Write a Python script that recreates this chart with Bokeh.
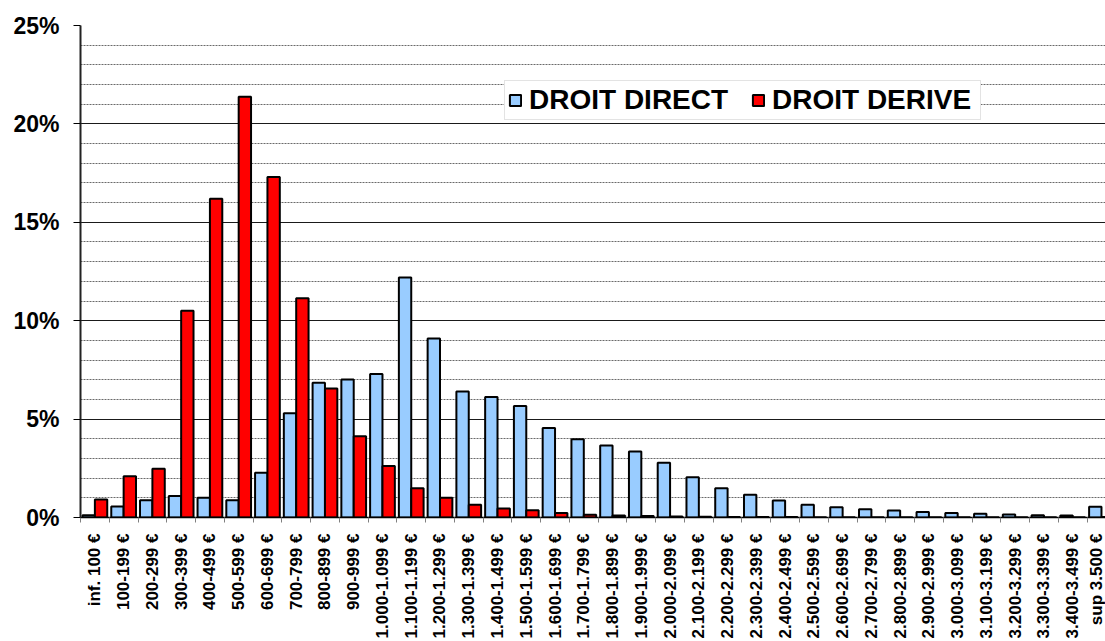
import math
import numpy as np
from bokeh.plotting import figure
from bokeh.models import (ColumnDataSource, Range1d, FixedTicker, PrintfTickFormatter,
                          Legend, LegendItem)
from bokeh.transform import dodge
from bokeh.embed import file_html
from bokeh.resources import INLINE

categories = [
    "inf. 100 €", "100-199 €", "200-299 €", "300-399 €", "400-499 €", "500-599 €",
    "600-699 €", "700-799 €", "800-899 €", "900-999 €", "1.000-1.099 €", "1.100-1.199 €",
    "1.200-1.299 €", "1.300-1.399 €", "1.400-1.499 €", "1.500-1.599 €", "1.600-1.699 €",
    "1.700-1.799 €", "1.800-1.899 €", "1.900-1.999 €", "2.000-2.099 €", "2.100-2.199 €",
    "2.200-2.299 €", "2.300-2.399 €", "2.400-2.499 €", "2.500-2.599 €", "2.600-2.699 €",
    "2.700-2.799 €", "2.800-2.899 €", "2.900-2.999 €", "3.000-3.099 €", "3.100-3.199 €",
    "3.200-3.299 €", "3.300-3.399 €", "3.400-3.499 €", "sup 3.500 €",
]

droit_direct = [
    0.12, 0.56, 0.88, 1.09, 1.00, 0.88, 2.27, 5.30, 6.85, 7.01, 7.29, 12.20,
    9.09, 6.40, 6.12, 5.66, 4.55, 3.97, 3.66, 3.36, 2.78, 2.04, 1.49, 1.16,
    0.87, 0.65, 0.52, 0.42, 0.35, 0.28, 0.23, 0.19, 0.15, 0.12, 0.10, 0.55,
]

droit_derive = [
    0.91, 2.10, 2.48, 10.50, 16.20, 21.38, 17.30, 11.14, 6.56, 4.13, 2.62, 1.49,
    1.00, 0.65, 0.46, 0.37, 0.23, 0.14, 0.10, 0.08, 0.05, 0.04, 0.03, 0.02,
    0.02, 0.01, 0.01, 0.01, 0.01, 0.01, 0.01, 0.01, 0.01, 0.01, 0.01, 0.02,
]

y_major = [0, 5, 10, 15, 20, 25]
y_minor = [v for v in range(1, 25) if v % 5 != 0]

series_names = ["DROIT DIRECT", "DROIT DERIVE"]
colors = ["#99CCFF", "#FF0000"]

n = len(categories)
centers = [i + 0.5 for i in range(n)]
source = ColumnDataSource(dict(x=centers, direct=droit_direct, derive=droit_derive))

FONT = "Liberation Sans"

p = figure(width=1105, height=641, output_backend="svg", toolbar_location=None,
           x_range=Range1d(0, 35.64), y_range=Range1d(0, 25),
           min_border_left=80, min_border_top=25, min_border_right=0, min_border_bottom=124)
p.outline_line_color = None
p.background_fill_color = "white"
p.border_fill_color = "white"

bw = 0.43
r1 = p.vbar(x=dodge("x", -bw / 2, range=p.x_range), top="direct", width=bw, source=source,
            fill_color=colors[0], line_color="black", line_width=2)
r2 = p.vbar(x=dodge("x", bw / 2, range=p.x_range), top="derive", width=bw, source=source,
            fill_color=colors[1], line_color="black", line_width=2)

# x axis
xax = p.xaxis[0]
xax.ticker = FixedTicker(ticks=centers, minor_ticks=list(range(n + 1)))
xax.major_label_overrides = {float(c): lab for c, lab in zip(centers, categories)}
xax.major_label_orientation = math.pi / 2
xax.major_label_text_font = FONT
xax.major_label_text_font_style = "bold"
xax.major_label_text_font_size = "17px"
xax.major_label_text_color = "black"
xax.major_label_standoff = 11
xax.major_tick_in = 0
xax.major_tick_out = 0
xax.minor_tick_in = 0
xax.minor_tick_out = 5
xax.minor_tick_line_color = "#808080"
xax.axis_line_color = "black"
xax.axis_line_width = 1.5

# y axis
yticker = FixedTicker(ticks=y_major, minor_ticks=y_minor)
yax = p.yaxis[0]
yax.ticker = yticker
yax.formatter = PrintfTickFormatter(format="%d%%")
yax.major_label_text_font = FONT
yax.major_label_text_font_style = "bold"
yax.major_label_text_font_size = "23px"
yax.major_label_text_color = "black"
yax.major_label_standoff = 14
yax.major_tick_in = 0
yax.major_tick_out = 7
yax.major_tick_line_color = "black"
yax.minor_tick_in = 0
yax.minor_tick_out = 0
yax.axis_line_color = "#222222"
yax.axis_line_width = 2

p.xgrid.visible = False
p.ygrid.ticker = yticker
p.ygrid.grid_line_color = "#1a1a1a"
p.ygrid.grid_line_width = 1
p.ygrid.minor_grid_line_color = "#6a6a6a"
p.ygrid.minor_grid_line_dash = "2 1"
p.ygrid.minor_grid_line_width = 1

legend = Legend(items=[LegendItem(label=series_names[0], renderers=[r1]),
                       LegendItem(label=series_names[1], renderers=[r2])],
                orientation="horizontal", location=(424, 397))
legend.label_text_font = FONT
legend.label_text_font_style = "bold"
legend.label_text_font_size = "28px"
legend.label_text_color = "black"
legend.glyph_width = 14
legend.glyph_height = 14
legend.label_standoff = 7
legend.label_width = 205
legend.spacing = 17
legend.padding = 3
legend.margin = 0
legend.border_line_color = "#c8c8c8"
legend.border_line_width = 1
legend.background_fill_color = "white"
legend.background_fill_alpha = 1.0
p.add_layout(legend)

open("out.html", "w").write(file_html(p, INLINE))
